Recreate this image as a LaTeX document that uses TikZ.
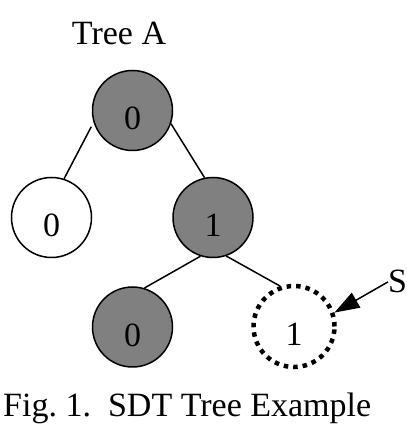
\documentclass[tikz,border=0pt]{standalone}
\usepackage{fontspec}
\setmainfont{Liberation Serif}
\usetikzlibrary{arrows.meta}
\definecolor{nodegray}{RGB}{128,128,128}

\begin{document}
\begin{tikzpicture}[x=1pt, y=1pt,
    txt/.style={font=\fontsize{34}{40}\selectfont, inner sep=0pt},
    digit/.style={label={[txt, yshift=-8pt]center:#1}},
    full/.style={circle, draw=black, line width=1.5pt, fill=nodegray, minimum size=80pt, inner sep=0pt},
    empty/.style={circle, draw=black, line width=1.5pt, fill=white, minimum size=80pt, inner sep=0pt},
    ghost/.style={circle, draw=black, line width=4.5pt, dash pattern=on 4.5pt off 5pt, minimum size=81pt, inner sep=0pt},
    link/.style={draw=black, line width=1.5pt}]
    \useasboundingbox (0,0) rectangle (406,430);
    \node[txt, anchor=base] (title) at (119,385) {Tree A};
    \node[full, digit=0] (root) at (132.5,319.5) {};
    \node[empty, digit=0] (left) at (51.5,212.5) {};
    \node[full, digit=1] (right) at (213,212.5) {};
    \node[full, digit=0] (low) at (132.5,103) {};
    \node[ghost, digit=1] (miss) at (294,103.5) {};
    \node[txt, anchor=base west] (S) at (388,137) {S};
    \node[txt, anchor=base west] (cap) at (3,13) {Fig.\ 1.\ \ SDT Tree Example};
    \draw[link, shorten <=5pt] (root.197) -- (left.72);
    \draw[link] (root.341) -- (right.102);
    \draw[link] (right.252) -- (low.73);
    \draw[link] (right.289) -- (miss.109);
    \draw[link, -{Triangle[length=25pt,width=17pt]}] (S.west) -- (miss.19);
  \end{tikzpicture}
\end{document}
